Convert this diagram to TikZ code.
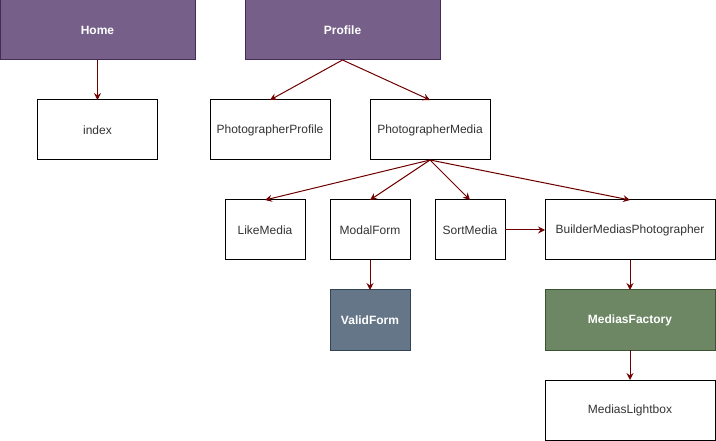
\documentclass[tikz,border=0pt]{standalone}
\usepackage{fontspec}
\setmainfont{Liberation Sans}
\usetikzlibrary{arrows.meta, positioning}
\definecolor{pagefill}{HTML}{76608A}
\definecolor{pageline}{HTML}{432D57}
\definecolor{checkfill}{HTML}{647687}
\definecolor{checkline}{HTML}{314354}
\definecolor{factfill}{HTML}{6D8764}
\definecolor{factline}{HTML}{3A5431}
\definecolor{link}{HTML}{6F0000}

\begin{document}
\begin{tikzpicture}
    [
        x=1pt, y=-1pt, >={Stealth[length=7pt, width=7pt, inset=2.5pt]},
        box/.style={draw, line width=1pt, fill=white, text=black!80, outer sep=0pt,
            font=\fontsize{12}{14}\selectfont, inner sep=0pt, minimum height=60pt},
        pagebox/.style={box, fill=pagefill, draw=pageline, text=white,
            font=\fontsize{12}{14}\selectfont\bfseries, minimum width=195pt},
        checkbox/.style={box, fill=checkfill, draw=checkline, text=white,
            font=\fontsize{12}{14}\selectfont\bfseries},
        factbox/.style={box, fill=factfill, draw=factline, text=white,
            font=\fontsize{12}{14}\selectfont\bfseries}
    ]
    \tikzstyle{line} = [draw, link, line width=1pt, ->]

    \useasboundingbox (0,0) rectangle (716,441);

    % Pages
    \node[pagebox] (home) at (97.5,30) {Home};
    \node[pagebox] (profile) at (342.5,30) {Profile};
    \node[box, minimum width=120pt, below=40pt of home] (index) {index};
    \node[box, minimum width=120pt] (photo_profile) at (270,130) {PhotographerProfile};
    \node[box, minimum width=120pt] (photo_media) at (430,130) {PhotographerMedia};

    % Media row
    \node[box, minimum width=80pt] (like_media) at (265,230) {LikeMedia};
    \node[box, minimum width=80pt] (modal_form) at (370,230) {ModalForm};
    \node[box, minimum width=70pt] (sort_media) at (470,230) {SortMedia};
    \node[box, minimum width=170pt] (builder) at (630,230) {BuilderMediasPhotographer};

    % Below
    \node[checkbox, minimum width=80pt, below=30pt of modal_form] (valid_form) {ValidForm};
    \node[factbox, minimum width=170pt, below=30pt of builder] (factory) {MediasFactory};
    \node[box, minimum width=170pt, below=30pt of factory] (lightbox) {MediasLightbox};

    \path[line] (home) -- (index);
    \path[line] (profile.south) -- (photo_profile.north);
    \path[line] (profile.south) -- (photo_media.north);
    \path[line] (photo_media.south) -- (like_media.north);
    \path[line] (photo_media.south) -- (modal_form.north);
    \path[line] (photo_media.south) -- (sort_media.north);
    \path[line] (photo_media.south) -- (builder.north);
    \path[line] (sort_media) -- (builder);
    \path[line] (modal_form) -- (valid_form);
    \path[line] (builder) -- (factory);
    \path[line] (factory) -- (lightbox);

\end{tikzpicture}
\end{document}
